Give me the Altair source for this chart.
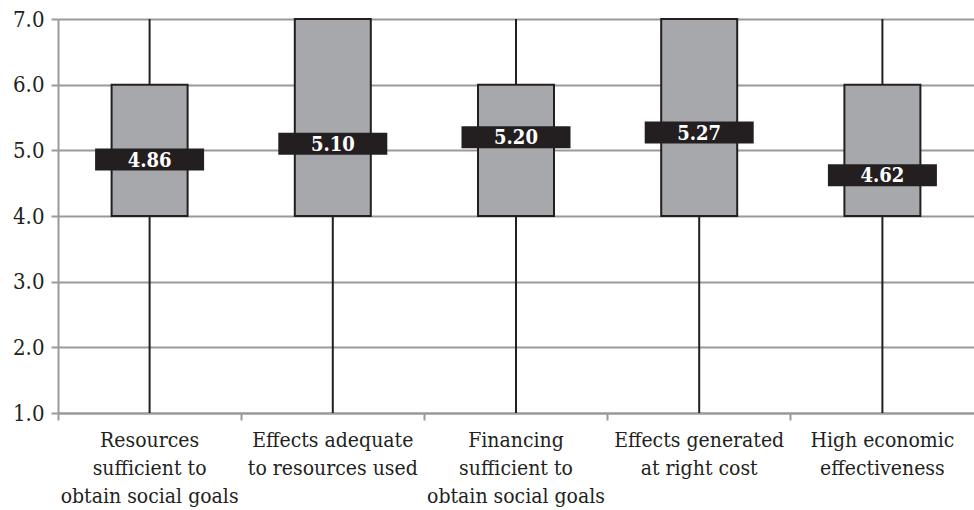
import altair as alt
import pandas as pd

categories = [
    "Resources\nsufficient to\nobtain social goals",
    "Effects adequate\nto resources used",
    "Financing\nsufficient to\nobtain social goals",
    "Effects generated\nat right cost",
    "High economic\neffectiveness",
]
mins = [1, 1, 1, 1, 1]
q1s = [4, 4, 4, 4, 4]
q3s = [6, 7, 6, 7, 6]
maxs = [7, 7, 7, 7, 7]
means = [4.86, 5.10, 5.20, 5.27, 4.62]

df = pd.DataFrame({
    "cat": categories, "min": mins, "q1": q1s, "q3": q3s, "max": maxs, "mean": means,
})
df["label"] = df["mean"].map(lambda v: f"{v:.2f}")

FONT = "DejaVu Serif Condensed"
xenc = alt.X("cat:N", sort=categories, title=None,
             scale=alt.Scale(paddingInner=0, paddingOuter=0),
             axis=alt.Axis(labelAngle=0, labelExpr="split(datum.label, '\\n')",
                           bandPosition=0, grid=False, tickSize=7, tickColor="#9a9a9a",
                           tickWidth=2, domainColor="#9a9a9a", domainWidth=2,
                           labelFont=FONT, labelFontSize=21, labelLineHeight=28,
                           labelColor="#231f20", labelPadding=9, labelBaseline="top"))
yscale = alt.Scale(domain=[1, 7], nice=False, zero=False)

base = alt.Chart(df)

whisk = base.mark_rule(color="#231f20", strokeWidth=2).encode(
    x=xenc,
    y=alt.Y("min:Q", scale=yscale, title=None,
            axis=alt.Axis(values=[1, 2, 3, 4, 5, 6, 7], format=".1f", grid=True,
                          gridColor="#9a9a9a", gridWidth=2, tickColor="#9a9a9a",
                          tickWidth=2, tickSize=7, domainColor="#9a9a9a", domainWidth=2,
                          labelFont=FONT, labelFontSize=22, labelColor="#231f20",
                          labelPadding=7)),
    y2="max:Q",
)
box = base.mark_bar(size=76, color="#a7a8ab", stroke="#231f20", strokeWidth=2).encode(
    x=xenc, y=alt.Y("q1:Q", scale=yscale), y2="q3:Q",
)
meanmark = base.mark_tick(color="#231f20", size=109, thickness=22, opacity=1).encode(
    x=xenc, y=alt.Y("mean:Q", scale=yscale),
)
txt = base.mark_text(color="white", font=FONT, fontSize=20, fontWeight="bold",
                     baseline="middle", dy=1).encode(
    x=xenc, y=alt.Y("mean:Q", scale=yscale), text="label:N",
)

chart = alt.layer(whisk, box, meanmark, txt).properties(
    width=916, height=394,
    autosize=alt.AutoSizeParams(type="none"),
    padding={"left": 58, "top": 19, "right": 0, "bottom": 97},
    background="white",
).configure_view(stroke=None)

chart.save("out.html", embed_options={"renderer": "svg", "actions": False})
